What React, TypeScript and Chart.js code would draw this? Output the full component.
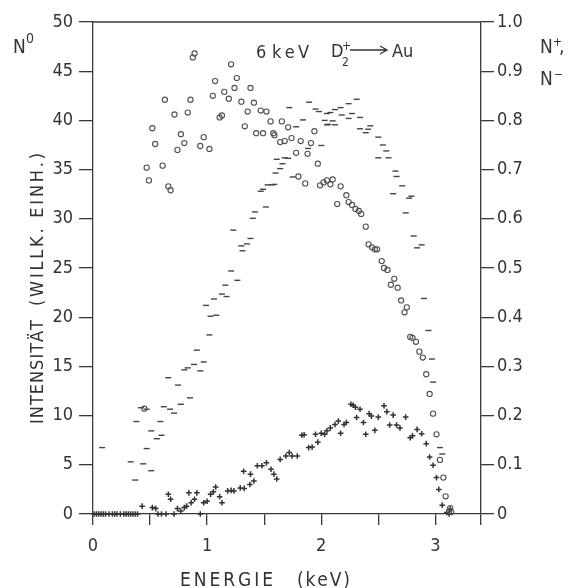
import React, { useEffect, useRef } from "react";
import { Chart, registerables } from "chart.js";

Chart.register(...registerables);

// ---------- data ----------
// N0 (circles, left axis, arbitrary units)
const n0X = [0.45, 0.47, 0.49, 0.52, 0.545, 0.61, 0.63, 0.66, 0.68, 0.714, 0.74, 0.77, 0.80, 0.83, 0.854, 0.875, 0.89, 0.94, 0.97, 1.02, 1.05, 1.07, 1.11, 1.13, 1.15, 1.19, 1.21, 1.24, 1.26, 1.30, 1.33, 1.355, 1.38, 1.41, 1.43, 1.47, 1.49, 1.52, 1.556, 1.58, 1.59, 1.64, 1.655, 1.68, 1.71, 1.74, 1.78, 1.80, 1.82, 1.86, 1.88, 1.91, 1.94, 1.97, 1.99, 2.02, 2.05, 2.08, 2.10, 2.14, 2.17, 2.22, 2.24, 2.27, 2.30, 2.33, 2.35, 2.39, 2.415, 2.445, 2.47, 2.49, 2.53, 2.55, 2.58, 2.61, 2.64, 2.67, 2.70, 2.73, 2.75, 2.78, 2.80, 2.83, 2.86, 2.89, 2.92, 2.95, 2.98, 3.01, 3.04, 3.07, 3.09, 3.12, 3.13, 3.14];
const n0Y = [10.7, 35.2, 33.9, 39.2, 37.6, 35.4, 42.1, 33.3, 32.9, 40.6, 37.0, 38.6, 37.7, 40.8, 42.1, 46.4, 46.8, 37.4, 38.3, 37.1, 42.5, 44.0, 40.3, 40.5, 42.9, 42.2, 45.7, 43.3, 44.3, 41.9, 39.4, 40.9, 43.3, 41.8, 38.7, 41.0, 38.7, 40.9, 39.9, 38.7, 38.5, 37.8, 39.9, 37.9, 39.3, 38.2, 36.7, 34.3, 37.9, 33.6, 36.6, 37.7, 38.9, 35.6, 33.4, 33.7, 33.9, 33.5, 34.0, 31.5, 33.3, 32.4, 31.7, 31.4, 31.0, 30.8, 30.5, 29.2, 27.4, 27.1, 26.9, 26.9, 25.7, 25.0, 24.8, 23.3, 23.9, 23.0, 21.7, 20.5, 21.0, 18.0, 17.9, 17.5, 16.5, 15.9, 14.2, 12.2, 10.2, 8.1, 5.5, 3.7, 1.8, 0.3, 0.6, 0.2];

// N+ (dashes, right axis)
const nPlusX = [0.08, 0.33, 0.37, 0.38, 0.42, 0.44, 0.47, 0.47, 0.51, 0.51, 0.56, 0.59, 0.60, 0.62, 0.66, 0.675, 0.71, 0.745, 0.77, 0.80, 0.83, 0.85, 0.885, 0.91, 0.94, 0.97, 0.99, 1.02, 1.03, 1.06, 1.08, 1.13, 1.16, 1.17, 1.21, 1.23, 1.265, 1.30, 1.31, 1.35, 1.38, 1.40, 1.42, 1.47, 1.49, 1.515, 1.53, 1.57, 1.59, 1.60, 1.61, 1.64, 1.66, 1.68, 1.71, 1.72, 1.75, 1.78, 1.84, 1.885, 1.894, 1.95, 1.98, 2.00, 2.03, 2.05, 2.05, 2.06, 2.08, 2.10, 2.12, 2.12, 2.17, 2.18, 2.24, 2.24, 2.27, 2.31, 2.34, 2.34, 2.39, 2.41, 2.43, 2.50, 2.50, 2.54, 2.57, 2.59, 2.63, 2.65, 2.66, 2.71, 2.74, 2.77, 2.79, 2.81, 2.84, 2.88, 2.90, 2.94, 2.97, 2.98, 3.04, 3.06];
const nPlusY = [0.135, 0.106, 0.069, 0.188, 0.216, 0.102, 0.213, 0.133, 0.169, 0.088, 0.153, 0.188, 0.160, 0.218, 0.277, 0.213, 0.205, 0.262, 0.223, 0.293, 0.297, 0.236, 0.304, 0.333, 0.291, 0.309, 0.424, 0.364, 0.402, 0.437, 0.404, 0.447, 0.465, 0.442, 0.494, 0.577, 0.475, 0.545, 0.535, 0.549, 0.560, 0.601, 0.614, 0.656, 0.660, 0.624, 0.669, 0.669, 0.670, 0.693, 0.721, 0.702, 0.712, 0.724, 0.723, 0.826, 0.685, 0.787, 0.801, 0.743, 0.837, 0.823, 0.818, 0.749, 0.800, 0.814, 0.791, 0.792, 0.816, 0.799, 0.822, 0.791, 0.826, 0.811, 0.834, 0.804, 0.814, 0.843, 0.806, 0.783, 0.775, 0.782, 0.789, 0.766, 0.724, 0.750, 0.738, 0.724, 0.651, 0.697, 0.686, 0.667, 0.612, 0.642, 0.646, 0.565, 0.541, 0.547, 0.438, 0.373, 0.315, 0.268, 0.135, 0.122];

// N- (crosses, right axis)
const nMinusX = [0.01, 0.03, 0.05, 0.07, 0.09, 0.11, 0.14, 0.17, 0.19, 0.21, 0.24, 0.27, 0.29, 0.31, 0.33, 0.35, 0.37, 0.39, 0.43, 0.52, 0.55, 0.57, 0.60, 0.64, 0.66, 0.68, 0.71, 0.74, 0.77, 0.80, 0.82, 0.84, 0.86, 0.89, 0.91, 0.94, 0.97, 1.00, 1.03, 1.055, 1.075, 1.11, 1.13, 1.18, 1.21, 1.235, 1.29, 1.32, 1.325, 1.375, 1.38, 1.41, 1.44, 1.48, 1.52, 1.56, 1.585, 1.61, 1.64, 1.69, 1.72, 1.745, 1.79, 1.83, 1.85, 1.89, 1.92, 1.95, 1.97, 2.00, 2.03, 2.05, 2.08, 2.12, 2.15, 2.17, 2.20, 2.22, 2.26, 2.28, 2.30, 2.31, 2.34, 2.37, 2.39, 2.42, 2.44, 2.47, 2.50, 2.55, 2.575, 2.60, 2.63, 2.66, 2.69, 2.74, 2.78, 2.80, 2.84, 2.88, 2.92, 2.95, 2.98, 3.01, 3.03, 3.06, 3.10, 3.12, 3.13];
const nMinusY = [0, 0, 0, 0, 0, 0, 0, 0, 0, 0, 0, 0, 0, 0, 0, 0, 0, 0, 0.016, 0.013, 0.011, 0, 0, 0, 0.040, 0.030, 0, 0.011, 0.006, 0.013, 0.016, 0.043, 0.023, 0.030, 0.043, 0, 0.023, 0.026, 0.040, 0.045, 0.055, 0.035, 0.023, 0.047, 0.048, 0.047, 0.053, 0.087, 0.052, 0.060, 0.081, 0.067, 0.098, 0.098, 0.104, 0.091, 0.081, 0.071, 0.111, 0.118, 0.125, 0.118, 0.118, 0.160, 0.161, 0.135, 0.136, 0.162, 0.146, 0.164, 0.162, 0.169, 0.175, 0.182, 0.189, 0.164, 0.182, 0.186, 0.223, 0.221, 0.217, 0.196, 0.213, 0.186, 0.162, 0.204, 0.199, 0.170, 0.197, 0.220, 0.208, 0.181, 0.201, 0.181, 0.175, 0.197, 0.155, 0.159, 0.172, 0.163, 0.143, 0.116, 0.099, 0.074, 0.050, 0.018, 0.003, 0.0, 0.01];

const xTicks = [0, 0.5, 1, 1.5, 2, 2.5, 3, 3.4];
const xTickLabels = ["0", "", "1", "", "2", "", "3", ""];
const leftTicks = [0, 5, 10, 15, 20, 25, 30, 35, 40, 45, 50];
const rightTicks = [0, 0.1, 0.2, 0.3, 0.4, 0.5, 0.6, 0.7, 0.8, 0.9, 1.0];
const rightTickLabels = ["0", "0.1", "0.2", "0.3", "0.4", "0.5", "0.6", "0.7", "0.8", "0.9", "1.0"];

// ---------- style ----------
const FONT = '"DejaVu Sans Condensed", "DejaVu Sans", sans-serif';
const INK = "#333333";
const AXIS = "#3a3a3a";

function drawSpaced(ctx: CanvasRenderingContext2D, text: string, x: number, y: number, target: number) {
  const chars = Array.from(text);
  const widths = chars.map((c) => ctx.measureText(c).width);
  const total = widths.reduce((a, b) => a + b, 0);
  const extra = chars.length > 1 ? (target - total) / (chars.length - 1) : 0;
  let cx = x;
  chars.forEach((c, i) => {
    ctx.fillText(c, cx, y);
    cx += widths[i] + extra;
  });
}

const textPlugin = {
  id: "texts",
  afterDraw(chart: any) {
    const ctx: CanvasRenderingContext2D = chart.ctx;
    const a = chart.chartArea;
    ctx.save();
    // top frame line
    ctx.strokeStyle = AXIS;
    ctx.lineWidth = 1.3;
    ctx.beginPath();
    ctx.moveTo(a.left, a.top);
    ctx.lineTo(a.right, a.top);
    ctx.stroke();

    ctx.fillStyle = INK;
    ctx.textAlign = "left";
    ctx.textBaseline = "alphabetic";

    // N0 label
    ctx.font = `19px ${FONT}`;
    ctx.fillText("N", 13, 53);
    ctx.font = `14px ${FONT}`;
    ctx.fillText("0", 26, 43);

    // N+, N- labels
    ctx.font = `19px ${FONT}`;
    ctx.fillText("N", 540, 53);
    ctx.fillText(",", 559, 53);
    ctx.fillText("N", 540, 85);
    ctx.font = `12px ${FONT}`;
    ctx.fillText("+", 553, 46);
    ctx.fillText("\u2212", 554, 78);

    // annotation 6 keV D2+ -> Au
    ctx.font = `18px ${FONT}`;
    ctx.fillText("6", 256, 58);
    drawSpaced(ctx, "keV", 272, 58, 37);
    ctx.fillText("D", 331, 57);
    ctx.font = `12px ${FONT}`;
    ctx.fillText("2", 342, 66);
    ctx.fillText("+", 342, 50);
    ctx.strokeStyle = INK;
    ctx.lineWidth = 1.3;
    ctx.beginPath();
    ctx.moveTo(350, 50);
    ctx.lineTo(387, 50);
    ctx.moveTo(380, 46);
    ctx.lineTo(387, 50);
    ctx.lineTo(380, 54);
    ctx.stroke();
    ctx.font = `18px ${FONT}`;
    ctx.fillText("Au", 392, 57);

    // x title
    ctx.font = `19px ${FONT}`;
    drawSpaced(ctx, "ENERGIE", 180, 586, 93);
    drawSpaced(ctx, "(keV)", 297, 586, 53);

    // y title (rotated)
    ctx.font = `18px ${FONT}`;
    ctx.save();
    ctx.translate(43, 424);
    ctx.rotate(-Math.PI / 2);
    drawSpaced(ctx, "INTENSITÄT", 0, 0, 104);
    ctx.restore();
    ctx.save();
    ctx.translate(43, 306);
    ctx.rotate(-Math.PI / 2);
    drawSpaced(ctx, "(WILLK. EINH.)", 0, 0, 153);
    ctx.restore();

    ctx.restore();
  },
};

export default function App() {
  const ref = useRef<HTMLCanvasElement | null>(null);

  useEffect(() => {
    const canvas = ref.current;
    if (!canvas) return;
    const toPts = (xs: number[], ys: number[]) => xs.map((x, i) => ({ x, y: ys[i] }));
    const tickFont = { family: FONT, size: 18 };

    const chart = new Chart(canvas, {
      type: "scatter",
      data: {
        datasets: [
          {
            label: "N0",
            data: toPts(n0X, n0Y),
            yAxisID: "yL",
            pointStyle: "circle",
            pointRadius: 2.6,
            borderWidth: 1.1,
            borderColor: "#505050",
            backgroundColor: "rgba(0,0,0,0)",
            clip: false,
          },
          {
            label: "N+",
            data: toPts(nPlusX, nPlusY),
            yAxisID: "yR",
            pointStyle: "line",
            pointRadius: 3,
            borderWidth: 1.4,
            borderColor: "#444444",
            backgroundColor: "#444444",
            clip: false,
          },
          {
            label: "N-",
            data: toPts(nMinusX, nMinusY),
            yAxisID: "yR",
            pointStyle: "cross",
            pointRadius: 2.8,
            borderWidth: 1.5,
            borderColor: "#333333",
            backgroundColor: "#333333",
            clip: false,
          },
        ] as any,
      },
      options: {
        responsive: false,
        animation: false,
        devicePixelRatio: 1,
        layout: { padding: { top: 22, left: 0, right: 0, bottom: 0 } },
        plugins: { legend: { display: false }, tooltip: { enabled: false } },
        scales: {
          x: {
            type: "linear",
            position: "bottom",
            min: 0,
            max: 3.4,
            afterBuildTicks: (s: any) => {
              s.ticks = xTicks.map((v) => ({ value: v }));
            },
            afterFit: (s: any) => {
              s.height = 74;
            },
            ticks: {
              autoSkip: false,
              maxRotation: 0,
              font: tickFont,
              color: INK,
              padding: 11,
              callback: (v: any) => {
                const i = xTicks.indexOf(Number(v));
                return i >= 0 ? xTickLabels[i] : "";
              },
            },
            grid: { drawOnChartArea: false, tickLength: 11, color: AXIS, lineWidth: 1.3 },
            border: { color: AXIS, width: 1.3 },
          },
          yL: {
            type: "linear",
            position: "left",
            min: 0,
            max: 50,
            afterBuildTicks: (s: any) => {
              s.ticks = leftTicks.map((v) => ({ value: v }));
            },
            afterFit: (s: any) => {
              s.width = 93;
            },
            ticks: { font: tickFont, color: INK, padding: 6, callback: (v: any) => String(v) },
            grid: { drawOnChartArea: false, tickLength: 14, color: AXIS, lineWidth: 1.3 },
            border: { color: AXIS, width: 1.3 },
          },
          yR: {
            type: "linear",
            position: "right",
            min: 0,
            max: 1,
            afterBuildTicks: (s: any) => {
              s.ticks = rightTicks.map((v) => ({ value: v }));
            },
            afterFit: (s: any) => {
              s.width = 90;
            },
            ticks: {
              font: tickFont,
              color: INK,
              padding: 3,
              callback: (v: any) => {
                const i = rightTicks.findIndex((t) => Math.abs(t - Number(v)) < 1e-6);
                return i >= 0 ? rightTickLabels[i] : "";
              },
            },
            grid: { drawOnChartArea: false, tickLength: 13, color: AXIS, lineWidth: 1.3 },
            border: { color: AXIS, width: 1.3 },
          },
        },
      },
      plugins: [textPlugin],
    } as any);

    return () => chart.destroy();
  }, []);

  return (
    <div style={{ position: "fixed", left: 0, top: 0, width: 571, height: 588, background: "#ffffff" }}>
      <canvas ref={ref} width={571} height={588} style={{ display: "block" }} />
    </div>
  );
}
